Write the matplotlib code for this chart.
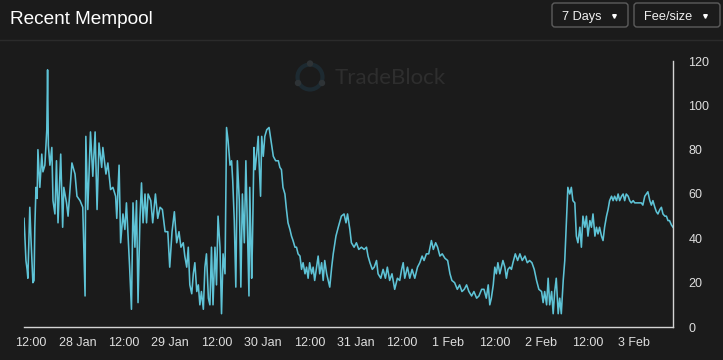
import matplotlib
matplotlib.use("Agg")
import matplotlib.pyplot as plt
from matplotlib.patches import FancyBboxPatch, Circle

# ---------------- data (hours after 27 Jan 12:00, fee/size) ----------------
hours_a = [-1.8, -1.6, -1.3, -1.0, -0.8, -0.3, 0.0, 0.5, 0.8, 1.0,
           1.3, 1.6, 1.8, 2.1, 2.3, 2.6, 2.8, 3.1, 3.6, 4.1,
           4.3, 4.5, 4.9, 5.4, 5.7, 6.2, 6.6, 7.0, 7.7, 8.2,
           8.5, 9.2, 9.6, 10.1, 10.6, 11.4, 11.9, 12.7, 13.4, 14.0,
           14.2, 14.7, 15.4, 16.0, 16.6, 17.1, 17.6, 18.3, 18.6, 19.4,
           19.9, 20.6, 21.2, 21.9, 22.2, 22.8, 23.2, 23.8]
fee_a = [49, 42, 30, 26, 22, 54, 40, 20, 21, 45,
         63, 58, 80, 70, 63, 72, 78, 70, 73, 89,
         116, 82, 73, 81, 57, 51, 75, 47, 78, 45,
         63, 56, 50, 62, 74, 69, 59, 57, 54, 14,
         86, 53, 88, 68, 88, 53, 83, 72, 81, 69,
         74, 62, 63, 59, 49, 73, 38, 51]

hours_b = [24.3, 24.7, 25.1, 25.5, 26.0, 26.4, 26.9, 27.3, 27.7, 28.2,
           28.6, 29.0, 29.5, 29.9, 30.3, 31.0, 31.5, 32.2, 32.8, 33.4,
           34.0, 34.7, 35.4, 35.9, 36.5, 37.1, 37.7, 38.3, 38.8, 39.4,
           39.8, 40.3, 40.7, 41.1, 41.6, 42.0, 42.4, 42.9, 43.3, 43.7,
           44.1, 44.6, 45.0, 45.4, 45.9, 46.3, 46.7, 47.1, 47.6, 48.0,
           48.4, 48.9, 49.3, 49.7, 50.2, 50.6, 51.0, 51.5, 51.9, 52.2,
           52.6]
fee_b = [44, 56, 42, 28, 8, 56, 36, 57, 11, 49,
         65, 47, 60, 47, 60, 57, 47, 60, 49, 54,
         53, 43, 43, 27, 43, 52, 38, 43, 36, 38,
         32, 27, 36, 19, 15, 24, 29, 16, 19, 10,
         16, 8, 27, 33, 13, 10, 36, 10, 36, 19,
         50, 36, 6, 33, 24, 90, 84, 73, 75, 66,
         48]

hours_c = [53.0, 53.4, 53.9, 54.3, 54.7, 55.2, 55.6, 56.0, 56.4, 56.6,
           57.1, 57.3, 57.7, 58.0, 58.4, 58.8, 59.0, 59.4, 59.7, 60.1,
           60.5, 61.0, 61.6, 62.2, 62.7, 63.3, 64.0, 64.4, 64.8, 65.2,
           65.7, 66.1, 66.5, 67.0, 67.4, 67.8, 68.3, 68.7, 69.1, 69.6,
           70.0, 70.4, 70.9, 71.3, 71.7, 72.1, 72.6, 73.0, 73.4, 73.9,
           74.3, 74.7, 75.2, 75.6, 76.0, 76.5, 76.9, 77.3, 77.8, 78.2,
           78.9, 79.5]
fee_c = [18, 75, 57, 18, 60, 38, 75, 45, 14, 63,
         22, 38, 81, 71, 78, 86, 75, 59, 86, 77,
         86, 89, 90, 83, 77, 75, 75, 72, 71, 63,
         60, 53, 47, 44, 41, 39, 36, 36, 33, 32,
         26, 29, 24, 27, 22, 29, 24, 27, 21, 27,
         32, 24, 29, 21, 30, 24, 21, 18, 27, 33,
         41, 45]

hours_d = [80.3, 81.0, 81.5, 81.9, 82.5, 82.9, 83.6, 84.2, 84.8, 85.5,
           86.2, 86.8, 87.2, 87.7, 88.3, 88.8, 89.4, 89.8, 90.5, 91.1,
           91.7, 92.2, 92.8, 93.4, 94.1, 94.8, 95.4, 95.9, 96.3, 96.7,
           97.4, 98.0, 98.6, 99.3, 100.0, 100.6, 101.2, 101.7, 102.3, 102.9,
           103.6, 104.1, 104.7, 105.2, 105.8, 106.4, 107.1]
fee_d = [50, 51, 47, 51, 44, 38, 36, 38, 35, 36,
         35, 36, 32, 29, 26, 27, 30, 24, 22, 26,
         22, 27, 21, 24, 17, 22, 21, 26, 29, 22,
         27, 22, 26, 22, 27, 29, 32, 30, 33, 33,
         39, 35, 38, 36, 32, 33, 31]

hours_e = [107.8, 108.4, 108.9, 109.6, 110.3, 110.9, 111.5, 112.1, 112.7, 113.3,
           114.0, 114.6, 115.3, 115.9, 116.6, 117.2, 117.8, 118.3, 118.7, 119.1,
           119.6, 120.0, 120.4, 120.8, 121.3, 121.7, 122.1, 122.6, 123.0, 123.4,
           123.9, 124.3, 124.7, 125.3, 125.9, 126.5, 127.1, 127.8, 128.4, 129.0,
           129.6, 130.2, 130.8, 131.4, 132.1, 132.5, 132.9, 133.4, 133.8, 134.2,
           134.7, 135.1, 135.5, 135.9, 136.4]
fee_e = [30, 24, 21, 20, 17, 19, 16, 17, 19, 16,
         14, 16, 13, 14, 17, 17, 13, 19, 10, 13,
         19, 27, 24, 29, 24, 27, 30, 27, 22, 26,
         27, 26, 29, 33, 30, 33, 30, 32, 29, 30,
         29, 26, 21, 17, 16, 11, 16, 10, 22, 10,
         16, 6, 16, 22, 6]

hours_f = [136.8, 137.2, 137.7, 138.1, 138.5, 138.9, 139.4, 139.8, 140.2, 140.7,
           141.1, 141.5, 142.0, 142.4, 142.8, 143.3, 143.7, 144.1, 144.6, 145.0,
           145.4, 145.9, 146.3, 146.7, 147.1, 147.6, 148.0, 148.4, 148.9, 149.3,
           149.7, 150.2, 150.6, 151.0, 151.5, 151.9, 152.3, 152.8, 153.2, 153.6,
           154.0, 154.5, 154.9, 155.3, 155.8, 156.2, 156.6, 157.0, 157.5, 157.9,
           158.3, 158.8, 159.2, 159.6, 160.1, 160.5, 160.9, 161.4, 161.8, 162.2,
           162.7, 163.1, 163.5, 164.0, 164.4, 164.8, 165.2, 165.7, 166.1]
fee_f = [13, 6, 21, 30, 47, 63, 60, 63, 57, 56,
         41, 38, 45, 36, 50, 45, 50, 41, 48, 45,
         51, 41, 45, 42, 45, 41, 39, 45, 50, 53,
         57, 59, 57, 59, 57, 60, 57, 59, 60, 57,
         60, 59, 57, 56, 57, 56, 56, 56, 56, 56,
         55, 59, 60, 61, 57, 55, 57, 54, 52, 51,
         53, 54, 51, 50, 50, 48, 48, 46, 45]

tick_hours = [0, 12, 24, 36, 48, 60, 72, 84, 96, 108, 120, 132, 144, 156]
tick_labels = ["12:00", "28 Jan", "12:00", "29 Jan", "12:00", "30 Jan", "12:00",
               "31 Jan", "12:00", "1 Feb", "12:00", "2 Feb", "12:00", "3 Feb"]
y_ticks = [0, 20, 40, 60, 80, 100, 120]

hours = hours_a + hours_b + hours_c + hours_d + hours_e + hours_f
fee = fee_a + fee_b + fee_c + fee_d + fee_e + fee_f

# ---------------- styling ----------------
BG = "#1b1b1b"
LINE = "#5ec3d6"
AXIS = "#d4d4d4"
TXT = "#dedede"
FONT = "Liberation Sans"

W, H = 723, 360
fig = plt.figure(figsize=(W / 100, H / 100), dpi=100, facecolor=BG)

# overlay (pixel coordinates) for header / watermark
ov = fig.add_axes([0, 0, 1, 1], zorder=0)
ov.set_xlim(0, W)
ov.set_ylim(H, 0)
ov.axis("off")
ov.set_facecolor(BG)

ov.text(10, 23.5, "Recent Mempool", fontsize=13.7, color="white",
        family=FONT, ha="left", va="baseline")
ov.plot([0, W], [39.5, 39.5], color="#2b2b2b", lw=1)

for (x0, x1, label, ax_arrow) in [(552, 628, "7 Days", 614), (634, 720, "Fee/size", 705)]:
    box = FancyBboxPatch((x0, 3), x1 - x0, 24, boxstyle="round,pad=0,rounding_size=3",
                         facecolor=BG, edgecolor="#5c5c5c", lw=1)
    ov.add_patch(box)
    ov.text(x0 + 10, 20, label, fontsize=9.2, color="#f0f0f0", family=FONT,
            ha="left", va="baseline")
    ov.plot([ax_arrow], [15.5], marker="v", ms=2.6, color="white", mec="white")

# watermark
ov.add_patch(Circle((310, 77), 12.5, facecolor="none", edgecolor="#1d2a31", lw=3))
for cx, cy in [(310, 63.5), (298, 83), (322, 83)]:
    ov.add_patch(Circle((cx, cy), 3.2, facecolor="#2e3336", edgecolor="none"))
ov.text(335, 84.5, "TradeBlock", fontsize=16, color="#2e2e2e", family="Lato",
        ha="left", va="baseline")

# main chart
ax = fig.add_axes([24 / W, 33 / H, 649 / W, 266 / H], zorder=1)
ax.set_facecolor("none")
ax.plot(hours, fee, color=LINE, lw=1.15, solid_joinstyle="round")
ax.set_xlim(-1.8, 166.1)
ax.set_ylim(0, 120)

for s in ["top", "left"]:
    ax.spines[s].set_visible(False)
for s in ["bottom", "right"]:
    ax.spines[s].set_color(AXIS)
    ax.spines[s].set_linewidth(1)

ax.yaxis.tick_right()
ax.set_yticks(y_ticks)
ax.set_yticklabels([str(v) for v in y_ticks])
ax.set_xticks(tick_hours)
ax.set_xticklabels(tick_labels)
ax.tick_params(axis="y", length=0, pad=11, labelcolor=TXT, labelsize=9)
ax.tick_params(axis="x", length=0, pad=7, labelcolor=TXT, labelsize=9)
for lab in ax.get_xticklabels() + ax.get_yticklabels():
    lab.set_family(FONT)

fig.savefig("out.png", dpi=100, facecolor=BG)
